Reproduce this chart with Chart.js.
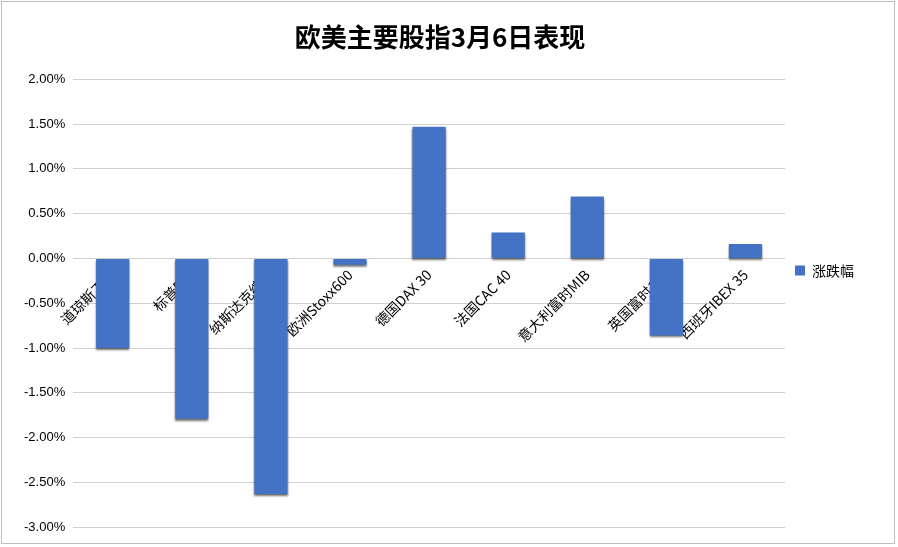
<!DOCTYPE html>
<html><head><meta charset="utf-8">
<script src="https://cdn.jsdelivr.net/npm/chart.js@4"></script>
<style>
html,body{margin:0;padding:0;background:#fff;}
#wrap{position:absolute;left:1px;top:1px;width:894px;height:543px;border:1px solid #bfbfbf;box-sizing:border-box;}
</style></head><body>
<div id="wrap"><canvas id="c"></canvas></div>
<script>
// 数据
const categories = ['道琼斯工业','标普500','纳斯达克综合','欧洲Stoxx600','德国DAX 30','法国CAC 40','意大利富时MIB','英国富时100','西班牙IBEX 35'];
const changes = [-1.00, -1.79, -2.63, -0.07, 1.47, 0.29, 0.69, -0.86, 0.16];
const yTicks = [2, 1.5, 1, 0.5, 0, -0.5, -1, -1.5, -2, -2.5, -3];

const font = "'Noto Sans CJK SC', 'Liberation Sans', sans-serif";

// 柱子底部的阴影
const shadow = {
  id: 'shadow',
  beforeDatasetsDraw(chart) {
    const ctx = chart.ctx;
    ctx.save();
    ctx.shadowColor = 'rgba(0,0,0,0.55)';
    ctx.shadowOffsetY = 2;
    ctx.shadowBlur = 2;
  },
  afterDatasetsDraw(chart) { chart.ctx.restore(); }
};

new Chart(document.getElementById('c'), {
  type: 'bar',
  data: {
    labels: categories,
    datasets: [{
      label: '涨跌幅',
      data: changes,
      backgroundColor: '#4472c4',
      barPercentage: 0.42,
      categoryPercentage: 1
    }]
  },
  options: {
    responsive: true,
    maintainAspectRatio: false,
    animation: false,
    layout: { padding: { left: 14, right: 30, top: 10, bottom: 14 } },
    plugins: {
      title: {
        display: true,
        text: '欧美主要股指3月6日表现',
        font: { family: font, size: 26, weight: 'bold' },
        color: '#000',
        padding: { top: 10, bottom: 26 }
      },
      legend: {
        position: 'right',
        labels: { boxWidth: 10, boxHeight: 10, font: { family: font, size: 14 }, color: '#000' }
      },
      tooltip: { enabled: false }
    },
    scales: {
      x: {
        position: { y: 0 },
        z: 1,
        grid: { display: false },
        border: { display: false },
        ticks: { minRotation: 45, maxRotation: 45, font: { family: font, size: 14 }, color: '#000', padding: 0 }
      },
      y: {
        min: -3, max: 2,
        afterBuildTicks(axis) { axis.ticks = yTicks.map(v => ({ value: v })); },
        grid: { color: '#d0d0d0', drawTicks: false },
        border: { display: false },
        ticks: {
          padding: 8,
          font: { family: "'Liberation Sans', sans-serif", size: 13 },
          color: '#000',
          callback: v => v.toFixed(2) + '%'
        }
      }
    }
  },
  plugins: [shadow]
});
</script>
</body></html>
